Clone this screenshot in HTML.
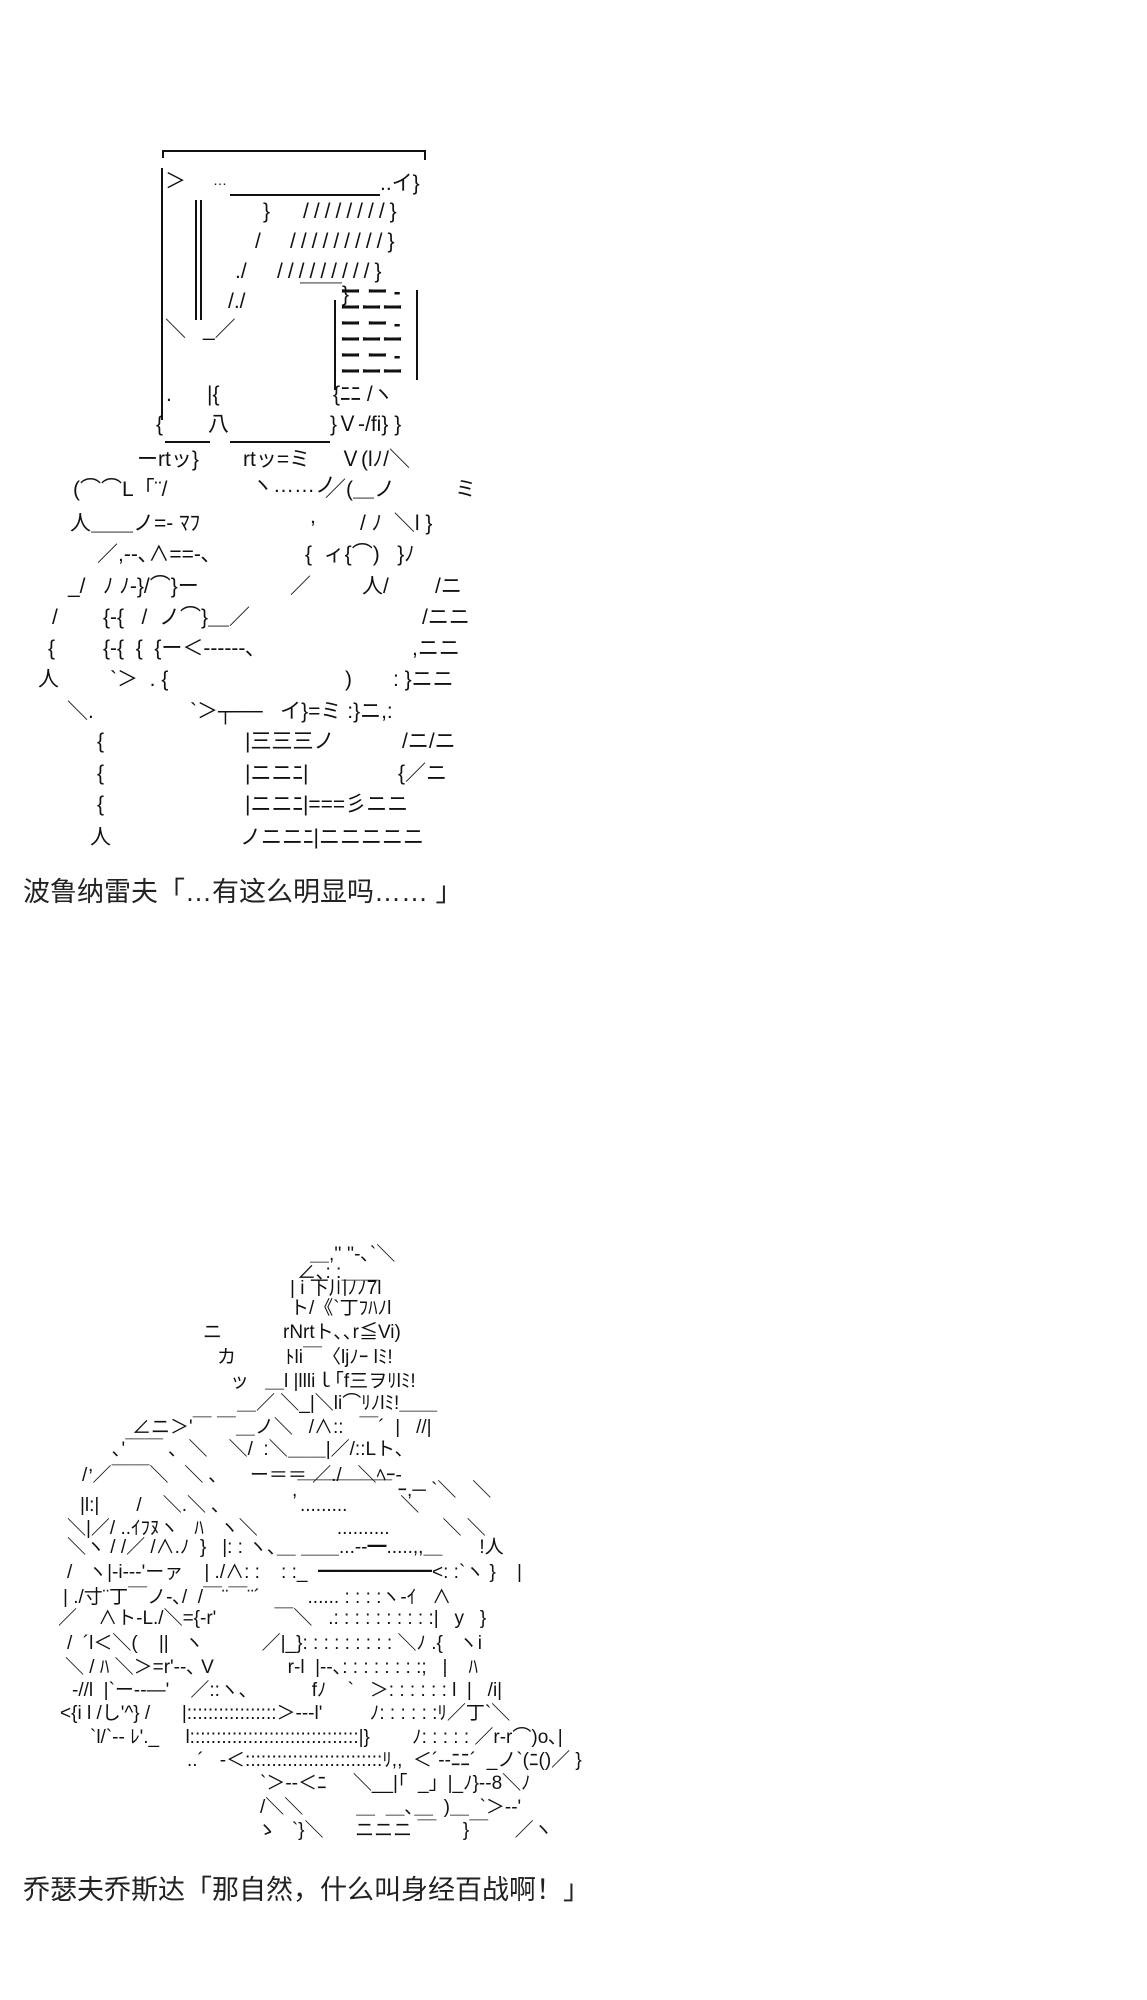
<!DOCTYPE html>
<html><head><meta charset="utf-8">
<style>
html,body{margin:0;padding:0;background:#fff;}
body{width:1147px;height:2000px;position:relative;overflow:hidden;color:#111;}
.a{position:absolute;white-space:pre;font-family:"Liberation Sans","Noto Sans CJK JP",sans-serif;font-size:21px;line-height:24px;}
.b{position:absolute;white-space:pre;font-family:"Liberation Sans","Noto Sans CJK JP",sans-serif;font-size:19px;line-height:22px;}
.cap{position:absolute;left:23px;white-space:pre;font-family:"Liberation Sans","Noto Sans CJK SC",sans-serif;font-size:27px;line-height:34px;color:#222;}
.clip{position:absolute;left:0;top:0;width:472px;height:870px;overflow:hidden;}
.hl{position:absolute;border-top:2px solid #111;}
.vl{position:absolute;border-left:2px solid #111;}
.sl{letter-spacing:5px;}
</style></head><body>
<div class="clip">
<div class="hl" style="left:162px;top:150px;width:262px"></div>
<div class="vl" style="left:162px;top:150px;height:8px"></div>
<div class="vl" style="left:424px;top:150px;height:10px"></div>
<div class="vl" style="left:161px;top:168px;height:252px"></div>
<div class="vl" style="left:195px;top:200px;height:120px"></div>
<div class="vl" style="left:200px;top:200px;height:120px"></div>
<div class="vl" style="left:416px;top:290px;height:90px"></div>
<div class="vl" style="left:334px;top:300px;height:90px"></div>
<div class="hl" style="left:230px;top:194px;width:150px"></div>
<div class="hl" style="left:165px;top:441px;width:45px"></div>
<div class="hl" style="left:230px;top:441px;width:100px"></div>
<div class="a" style="left:165px;top:170px">＞</div>
<div class="a" style="left:213px;top:168px;font-size:14px">…</div>
<div class="a" style="left:380px;top:172px">..イ}</div>
<div class="a" style="left:263px;top:200px">}</div>
<div class="a sl" style="left:303px;top:200px">////////}</div>
<div class="a" style="left:255px;top:230px">/</div>
<div class="a sl" style="left:290px;top:230px">/////////}</div>
<div class="a" style="left:235px;top:260px">./</div>
<div class="a sl" style="left:277px;top:260px">/////////}</div>
<div class="a" style="left:228px;top:290px">/./</div>
<div class="a" style="left:300px;top:283px">￣￣}</div>
<div class="a" style="left:165px;top:318px">＼</div>
<div class="a" style="left:203px;top:318px">_／</div>
<div class="a" style="left:340px;top:285px;line-height:16px;font-weight:bold">ー ー -
ーーー
ー ー -
ーーー
ー ー -
ーーー</div>
<div class="a" style="left:166px;top:383px">.</div>
<div class="a" style="left:207px;top:383px">|{</div>
<div class="a" style="left:333px;top:383px">{ﾆﾆ /ヽ</div>
<div class="a" style="left:156px;top:413px">{</div>
<div class="a" style="left:208px;top:413px">八</div>
<div class="a" style="left:330px;top:413px">}Ｖ-/fi} }</div>
<div class="a" style="left:137px;top:448px">ーrtッ}</div>
<div class="a" style="left:243px;top:448px">rtッ=ミ</div>
<div class="a" style="left:340px;top:448px">Ｖ(lﾉ/＼</div>
<div class="a" style="left:73px;top:478px">(⌒⌒L「¨/</div>
<div class="a" style="left:252px;top:474px">ヽ……ノ</div>
<div class="a" style="left:325px;top:478px">／(＿ノ</div>
<div class="a" style="left:455px;top:478px">ミ</div>
<div class="a" style="left:70px;top:512px">人＿＿ノ=- ﾏﾌ</div>
<div class="a" style="left:310px;top:505px">,</div>
<div class="a" style="left:360px;top:512px">/ ﾉ  ＼l }</div>
<div class="a" style="left:97px;top:543px">／,--､∧==-､</div>
<div class="a" style="left:305px;top:543px">{  ィ{⌒)   }ﾉ</div>
<div class="a" style="left:68px;top:575px">_/   ﾉ ﾉ-}/⌒}ー</div>
<div class="a" style="left:290px;top:575px">／</div>
<div class="a" style="left:362px;top:575px">人/</div>
<div class="a" style="left:435px;top:575px">/ニ</div>
<div class="a" style="left:52px;top:606px">/</div>
<div class="a" style="left:103px;top:606px">{-{   /  ノ⌒}＿／</div>
<div class="a" style="left:422px;top:606px">/ニニ</div>
<div class="a" style="left:48px;top:637px">{</div>
<div class="a" style="left:103px;top:637px">{-{  {  {ー＜------､</div>
<div class="a" style="left:412px;top:637px">,ニニ</div>
<div class="a" style="left:38px;top:668px">人</div>
<div class="a" style="left:110px;top:668px">`＞  . {</div>
<div class="a" style="left:345px;top:668px">)</div>
<div class="a" style="left:393px;top:668px">: }ニニ</div>
<div class="a" style="left:67px;top:700px">＼.</div>
<div class="a" style="left:190px;top:700px">`＞┬──   イ}=ミ :}ニ,:</div>
<div class="a" style="left:97px;top:730px">{</div>
<div class="a" style="left:245px;top:730px">|三三三ノ</div>
<div class="a" style="left:402px;top:730px">/ニ/ニ</div>
<div class="a" style="left:97px;top:762px">{</div>
<div class="a" style="left:245px;top:762px">|ニニﾆ|</div>
<div class="a" style="left:398px;top:762px">{／ニ</div>
<div class="a" style="left:97px;top:793px">{</div>
<div class="a" style="left:245px;top:793px">|ニニﾆ|===彡ニニ</div>
<div class="a" style="left:90px;top:826px">人</div>
<div class="a" style="left:240px;top:826px">ノニニﾆ|ニニニニニ</div>
</div>
<div class="cap" style="top:875px">波鲁纳雷夫「…有这么明显吗…… 」</div>

<div class="b" style="left:310px;top:1244px">＿,'' ''-､`＼</div>
<div class="b" style="left:297px;top:1262px">∠､: :＿＿</div>
<div class="b" style="left:290px;top:1278px">| i 下川ﾉﾉ7l</div>
<div class="b" style="left:290px;top:1298px">ト/《`丁ﾌﾊﾉl</div>
<div class="b" style="left:203px;top:1322px">ニ</div>
<div class="b" style="left:283px;top:1322px">rNrtト､､r≦Vi)</div>
<div class="b" style="left:217px;top:1347px">カ</div>
<div class="b" style="left:285px;top:1347px">ﾄli￣〈ljﾉｰ lﾐ!</div>
<div class="b" style="left:230px;top:1371px">ッ</div>
<div class="b" style="left:265px;top:1371px">＿l |llliｌ｢f三ヲﾘlﾐ!</div>
<div class="b" style="left:237px;top:1393px">＿／ ＼_|＼li⌒ﾘﾉlﾐ!＿＿</div>
<div class="b" style="left:132px;top:1417px">∠ニ＞'￣ ￣＿ノ＼   /∧::   ￣´  |   //|</div>
<div class="b" style="left:112px;top:1439px">､'￣￣ ､  ＼    ＼/  :＼＿＿|／/::Lト､</div>
<div class="b" style="left:88px;top:1455px">,</div>
<div class="b" style="left:82px;top:1465px">/ ／￣￣＼   ＼ ､      ー＝＝ ／./   ＼ﾍｰ-</div>
<div class="b" style="left:292px;top:1480px">,￣￣￣￣￣ ｰ,─ `＼   ＼</div>
<div class="b" style="left:80px;top:1495px">|l:|       /    ＼.＼ ､               .........          ＼</div>
<div class="b" style="left:67px;top:1518px">＼|／/ ..ｲﾌﾇヽ   ﾊ   ヽ＼               ..........          ＼ ＼</div>
<div class="b" style="left:67px;top:1537px">＼ヽ / /／ /∧.ﾉ  }   |: : ヽ､＿ ＿＿...--━.....,,＿       !人</div>
<div class="b" style="left:67px;top:1562px">/   ヽ|-i---'ーァ    | ./∧: :    : :_  ━━━━━━<: :`ヽ }    |</div>
<div class="b" style="left:63px;top:1587px">| ./寸¨丁￣ノ-､/  /￣¨￣¨´         ...... : : : :ヽ-ｲ   ∧</div>
<div class="b" style="left:58px;top:1608px">／    ∧ト-L./＼={-r'           ￣＼   .: : : : : : : : : :|   y   }</div>
<div class="b" style="left:67px;top:1633px">/  ´l＜＼(    ||   ヽ           ／|_}: : : : : : : : : ＼ﾉ .{   ヽi</div>
<div class="b" style="left:65px;top:1657px">＼ / ﾊ ＼＞=r'--､ V              r-l  |--､: : : : : : : :;   |    ﾊ</div>
<div class="b" style="left:72px;top:1680px">-//l  |`ー--―'    ／::ヽ､            fﾉ    `   ＞: : : : : : l  |   /i|</div>
<div class="b" style="left:60px;top:1703px">&lt;{i l /し'^} /      |:::::::::::::::::＞---l'         ﾉ: : : : : :ﾘ／丁`＼</div>
<div class="b" style="left:90px;top:1727px">`l/`-- ﾚ'._     l::::::::::::::::::::::::::::::::|}        ﾉ: : : : : ／r-r⌒)o､|</div>
<div class="b" style="left:187px;top:1750px">..´   -＜::::::::::::::::::::::::::ﾘ,,  ＜´--ﾆﾆ´  _ノ`(ﾆ()／ }</div>
<div class="b" style="left:260px;top:1773px">`＞--＜ﾆ     ＼__|｢  _」|_ﾉ}--8＼ﾉ</div>
<div class="b" style="left:260px;top:1797px">/＼＼          ＿  ＿､＿  )＿  `＞--'</div>
<div class="b" style="left:257px;top:1820px">ゝ   `}＼      ニニニ ￣     }￣     ／ヽ</div>
<div class="cap" style="top:1873px">乔瑟夫乔斯达「那自然，什么叫身经百战啊！」</div>
</body></html>
